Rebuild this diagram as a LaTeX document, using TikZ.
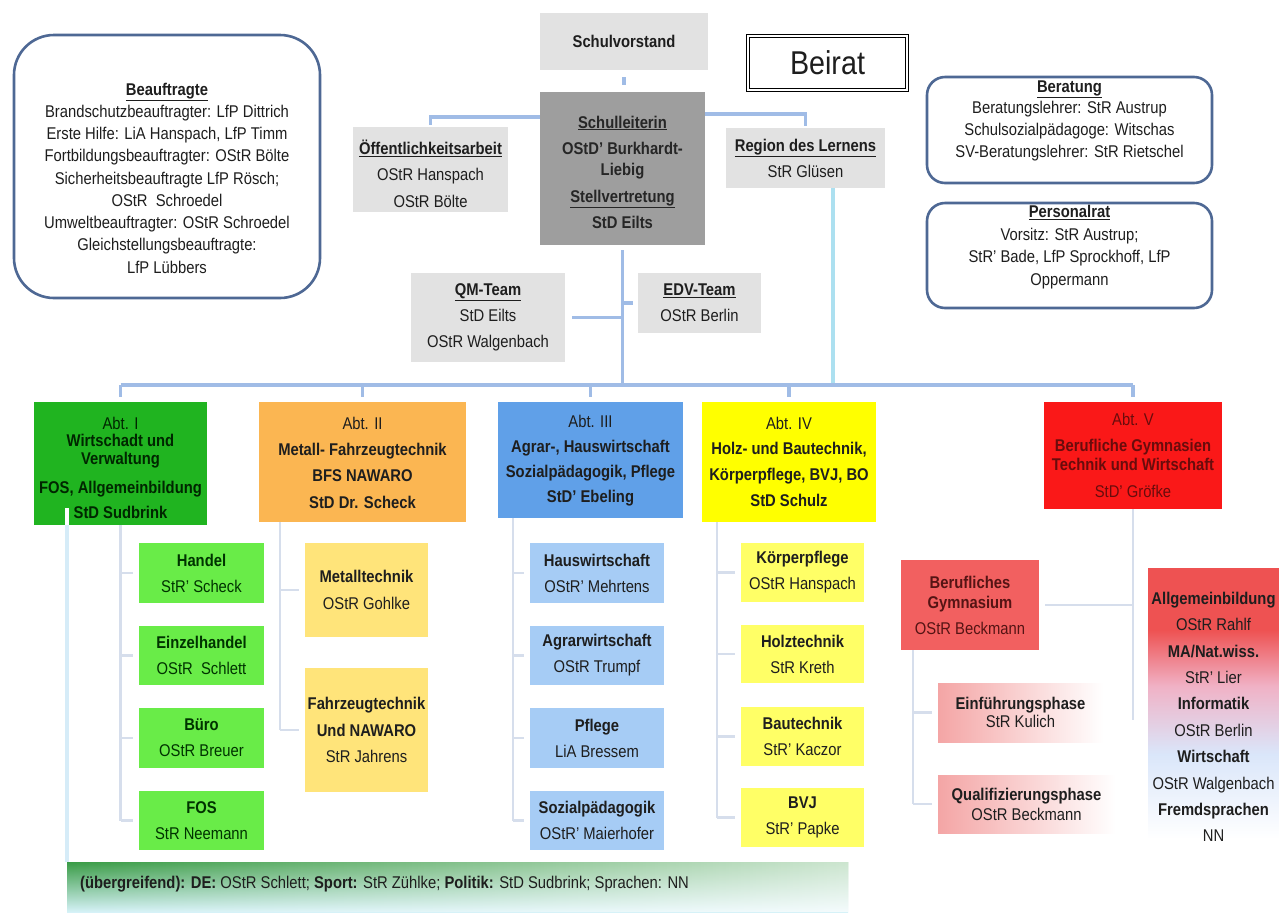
\documentclass[tikz,border=0pt]{standalone}
\usepackage{fontspec}
\setmainfont{Liberation Sans}[FakeStretch=0.87]
\usetikzlibrary{fadings}
\definecolor{txtc}{RGB}{30,30,30}
\definecolor{bordc}{RGB}{78,104,148}
\definecolor{grayb}{RGB}{226,226,226}
\definecolor{darkg}{RGB}{158,158,158}
\definecolor{connc}{RGB}{160,188,230}
\definecolor{subc}{RGB}{214,222,236}
\definecolor{cyanc}{RGB}{172,224,240}
\definecolor{abtIc}{RGB}{32,180,32}
\definecolor{abtIIc}{RGB}{251,182,82}
\definecolor{abtIIIc}{RGB}{96,160,232}
\definecolor{abtIVc}{RGB}{255,255,0}
\definecolor{abtVc}{RGB}{250,24,24}
\definecolor{subIc}{RGB}{105,236,72}
\definecolor{subIIc}{RGB}{255,228,122}
\definecolor{subIIIc}{RGB}{166,204,245}
\definecolor{subIVc}{RGB}{255,255,102}
\definecolor{bgc}{RGB}{242,96,96}
\definecolor{pinkc}{RGB}{244,165,165}
\definecolor{allgR}{RGB}{238,82,82}
\definecolor{allgP}{RGB}{240,178,198}
\definecolor{allgB}{RGB}{218,230,250}
\definecolor{barG}{RGB}{58,156,70}
\definecolor{barL}{RGB}{214,242,248}
\definecolor{greenline}{RGB}{214,236,248}
\definecolor{abtVt}{RGB}{105,12,12}
\definecolor{bgt}{RGB}{85,20,20}
\pgfdeclareverticalshading{allgshade}{100bp}{color(0bp)=(white); color(27bp)=(white); color(42bp)=(allgB); color(54bp)=(allgP); color(64bp)=(allgR); color(100bp)=(allgR)}
\newcommand\fnt[1]{\fontsize{17}{#1}\selectfont}
\newcommand\mkbox[7]{\node[fbox,#2,minimum width=#5-#3,minimum height=#6-#4] (#1) at ({(#3+#5)/2},{(#4+#6)/2}) {#7};}
\begin{document}
\begin{tikzpicture}[x=1pt,y=-1pt,
 fbox/.style={rectangle,inner sep=0pt,outer sep=0pt,align=center,text=txtc},
 txt/.style={inner sep=0pt,align=center,text=txtc},
 rbox/.style={rectangle,rounded corners=#1,draw=bordc,line width=2.6pt,fill=white,inner sep=0pt},
 conn/.style={draw=connc,line width=3.2pt},
 sconn/.style={draw=subc,line width=2.4pt},
 s1/.style={fill=subIc,font={\fnt{26}},text=black!80!green},
 s2/.style={fill=subIIc,font={\fnt{26.5}}},
 s3/.style={fill=subIIIc,font={\fnt{26}}},
 s4/.style={fill=subIVc,font={\fnt{26}}},
]
\useasboundingbox[fill=white] (0,0) rectangle (1279,914);

% Beauftragte
\mkbox{beauf}{rbox=40pt}{14}{35}{320}{298}{}
\node[txt,font={\fnt{22.25}}] (beauft) at (167,178) {\underline{\textbf{Beauftragte}}\\Brandschutzbeauftragter: LfP Dittrich\\Erste Hilfe: LiA Hanspach, LfP Timm\\Fortbildungsbeauftragter: OStR Bölte\\Sicherheitsbeauftragte LfP Rösch;\\OStR\ \ Schroedel\\Umweltbeauftragter: OStR Schroedel\\Gleichstellungsbeauftragte:\\LfP Lübbers};

% top
\mkbox{sv}{fill=grayb,font={\fnt{22}\bfseries}}{540}{13}{708}{70}{Schulvorstand}
\mkbox{beirat}{draw=black,double,double distance=2.2pt,line width=0.8pt,font={\fontsize{33}{36}\selectfont}}{748}{36}{907}{90}{Beirat}
\mkbox{sl}{fill=darkg}{540}{92}{705}{245}{}
\node[txt,font={\fnt{21}\bfseries},text=black!85] (slt) at (622.5,172) {\underline{Schulleiterin}\\[5pt]OStD' Burkhardt-\\Liebig\\[6pt]\underline{Stellvertretung}\\[5pt]StD Eilts};
\mkbox{oeff}{fill=grayb}{353}{127}{508}{212}{}
\node[txt,font={\fnt{26.5}}] (oefft) at (430.5,173.5) {\underline{\textbf{Öffentlichkeitsarbeit}}\\OStR Hanspach\\OStR Bölte};
\mkbox{region}{fill=grayb,font={\fnt{26}}}{726}{128}{885}{188}{\underline{\textbf{Region des Lernens}}\\StR Glüsen}
\mkbox{qm}{fill=grayb,font={\fnt{26}}}{411}{273}{565}{362}{\underline{\textbf{QM-Team}}\\StD Eilts\\OStR Walgenbach}
\mkbox{edv}{fill=grayb,font={\fnt{26}}}{638}{273}{761}{333}{\underline{\textbf{EDV-Team}}\\OStR Berlin}

% right boxes
\mkbox{berat}{rbox=18pt}{927}{77}{1212}{183}{}
\node[txt,font={\fnt{21.7}}] (beratt) at (1069.5,120.5) {\underline{\textbf{Beratung}}\\Beratungslehrer: StR Austrup\\Schulsozialpädagoge: Witschas\\SV-Beratungslehrer: StR Rietschel};
\mkbox{prat}{rbox=18pt}{927}{203}{1212}{308}{}
\node[txt,font={\fnt{22.7}}] (pratt) at (1069.5,247) {\underline{\textbf{Personalrat}}\\Vorsitz: StR Austrup;\\StR' Bade, LfP Sprockhoff, LfP\\Oppermann};

% Abteilungen
\mkbox{abt1}{fill=abtIc}{34}{402}{207}{525}{}
\node[txt,font={\fnt{18}},text=black!85!green] (abt1t) at (120.5,467.5) {Abt. I\\[-1pt]\textbf{Wirtschadt und}\\\textbf{Verwaltung}\\[11pt]\textbf{FOS, Allgemeinbildung}\\[7pt]\textbf{StD Sudbrink}};
\mkbox{abt2}{fill=abtIIc}{259}{402}{466}{522}{}
\node[txt,font={\fnt{26.3}}] (abt2t) at (362.5,462.5) {Abt. II\\\textbf{Metall- Fahrzeugtechnik}\\\textbf{BFS NAWARO}\\\textbf{StD Dr. Scheck}};
\mkbox{abt3}{fill=abtIIIc}{498}{402}{683}{518}{}
\node[txt,font={\fnt{25}}] (abt3t) at (590.5,460.5) {Abt. III\\\textbf{Agrar-, Hauswirtschaft}\\\textbf{Sozialpädagogik, Pflege}\\\textbf{StD' Ebeling}};
\mkbox{abt4}{fill=abtIVc}{702}{402}{876}{522}{}
\node[txt,font={\fnt{25.7}}] (abt4t) at (789,461.5) {Abt. IV\\\textbf{Holz- und Bautechnik,}\\\textbf{Körperpflege, BVJ, BO}\\\textbf{StD Schulz}};
\mkbox{abt5}{fill=abtVc}{1044}{402}{1222}{509}{}
\node[txt,font={\fnt{19}},text=abtVt] (abt5t) at (1133,455) {Abt. V\\[7pt]\textbf{Berufliche Gymnasien}\\\textbf{Technik und Wirtschaft}\\[8pt]StD' Gröfke};

% Abt I subs
\mkbox{handel}{s1}{139}{543}{264}{603}{\textbf{Handel}\\StR' Scheck}
\mkbox{einzel}{s1}{139}{626}{264}{685}{\textbf{Einzelhandel}\\OStR\ \ Schlett}
\mkbox{buero}{s1}{139}{708}{264}{768}{\textbf{Büro}\\OStR Breuer}
\mkbox{fos}{s1}{139}{791}{264}{850}{\textbf{FOS}\\StR Neemann}
% Abt II subs
\mkbox{metall}{s2}{305}{543}{428}{637}{\textbf{Metalltechnik}\\OStR Gohlke}
\mkbox{fahrz}{s2}{305}{668}{428}{792}{\textbf{Fahrzeugtechnik}\\\textbf{Und NAWARO}\\StR Jahrens}
% Abt III subs
\mkbox{hausw}{s3}{530}{543}{664}{603}{\textbf{Hauswirtschaft}\\OStR' Mehrtens}
\mkbox{agrar}{s3}{530}{626}{664}{685}{\textbf{Agrarwirtschaft}\\OStR Trumpf}
\mkbox{pflege}{s3}{530}{708}{664}{768}{\textbf{Pflege}\\LiA Bressem}
\mkbox{sozpaed}{s3}{530}{791}{664}{850}{\textbf{Sozialpädagogik}\\OStR' Maierhofer}
% Abt IV subs
\mkbox{koerper}{s4}{741}{543}{864}{602}{\textbf{Körperpflege}\\OStR Hanspach}
\mkbox{holz}{s4}{741}{625}{864}{683}{\textbf{Holztechnik}\\StR Kreth}
\mkbox{bau}{s4}{741}{707}{864}{766}{\textbf{Bautechnik}\\StR' Kaczor}
\mkbox{bvj}{s4}{741}{788}{864}{847}{\textbf{BVJ}\\StR' Papke}
% Abt V subs
\mkbox{bg}{fill=bgc,font={\fnt{20}},text=bgt}{901}{560}{1039}{650}{\textbf{Berufliches}\\\textbf{Gymnasium}\\[6pt]OStR Beckmann}
\mkbox{einf}{left color=pinkc,right color=white,font={\fnt{18}}}{938}{683}{1103}{742}{\textbf{Einführungsphase}\\StR Kulich}
\mkbox{qual}{left color=pinkc,right color=white,font={\fnt{20}}}{938}{775}{1115}{833}{\textbf{Qualifizierungsphase}\\OStR Beckmann}
\mkbox{allg}{shade,shading=allgshade}{1148}{568}{1279}{850}{}
\node[txt,font={\fnt{26.4}}] (allgt) at (1213.5,717) {\textbf{Allgemeinbildung}\\OStR Rahlf\\\textbf{MA/Nat.wiss.}\\StR' Lier\\\textbf{Informatik}\\OStR Berlin\\\textbf{Wirtschaft}\\OStR Walgenbach\\\textbf{Fremdsprachen}\\NN};

% bottom bar
\mkbox{bottom}{top color=barG,bottom color=barL}{67}{862}{848}{912}{}
\fill[white,path fading=west,fill opacity=0.75] (bottom.south west) rectangle (bottom.north east);
\node[txt,anchor=west,font={\fnt{20}}] (bottomt) at (80,884) {\textbf{(übergreifend): DE:} OStR Schlett; \textbf{Sport:} StR Zühlke; \textbf{Politik:} StD Sudbrink; Sprachen: NN};

% top connectors
\coordinate (oc) at (430.5,117);
\draw[conn,shorten >=2pt] (sl.west |- oc) -- (oc) -- (oeff.north);
\coordinate (rc) at (805.5,114);
\draw[conn,shorten >=2pt] (sl.east |- rc) -- (rc) -- (region.north);
\draw[conn,shorten <=7pt,shorten >=7pt] (sv.south) -- (sv.south |- sl.north);
\coordinate (bar) at (622.5,385);
\draw[conn,shorten <=5pt] (sl.south) -- (bar);
\draw[conn,shorten <=7pt] (qm.east) -- (qm.east -| bar);
\draw[conn,shorten >=5pt] (edv.west -| bar) -- (edv.west);
\coordinate (rl) at (833,385);
\draw[draw=cyanc,line width=3.2pt] (region.south -| rl) -- (rl);
\draw[conn] (abt1.north |- bar) -- (abt5.north |- bar);
\foreach \a in {abt1,abt2,abt3,abt4,abt5} \draw[conn,shorten >=5pt] (\a.north |- bar) -- (\a.north);

% sub connectors
\draw[sconn] (abt1.south) -- (abt1.south |- fos.west);
\foreach \b in {handel,einzel,buero,fos} \draw[sconn,shorten >=6pt] (abt1.south |- \b.west) -- (\b.west);
\coordinate (v2) at (280,0);
\draw[sconn] (v2 |- abt2.south) -- (v2 |- fahrz.west);
\foreach \b in {metall,fahrz} \draw[sconn,shorten >=6pt] (v2 |- \b.west) -- (\b.west);
\coordinate (v3) at (513,0);
\draw[sconn] (v3 |- abt3.south) -- (v3 |- sozpaed.west);
\foreach \b in {hausw,agrar,pflege,sozpaed} \draw[sconn,shorten >=6pt] (v3 |- \b.west) -- (\b.west);
\coordinate (v4) at (717,0);
\draw[sconn] (v4 |- abt4.south) -- (v4 |- bvj.west);
\foreach \b in {koerper,holz,bau,bvj} \draw[sconn,shorten >=6pt] (v4 |- \b.west) -- (\b.west);
\coordinate (v6) at (913,0);
\draw[sconn] (v6 |- bg.south) -- (v6 |- qual.west);
\foreach \b in {einf,qual} \draw[sconn,shorten >=6pt] (v6 |- \b.west) -- (\b.west);
\coordinate (v5) at (1133,720);
\draw[sconn] (abt5.south) -- (v5);
\draw[sconn,shorten <=6pt] (bg.east) -- (bg.east -| v5);

% line from Abt I to bottom bar
\coordinate (gl) at (67,508);
\draw[white,line width=4pt] (gl) -- (gl |- abt1.south);
\draw[greenline,line width=4pt] (gl |- abt1.south) -- (gl |- bottom.north);
\end{tikzpicture}
\end{document}
